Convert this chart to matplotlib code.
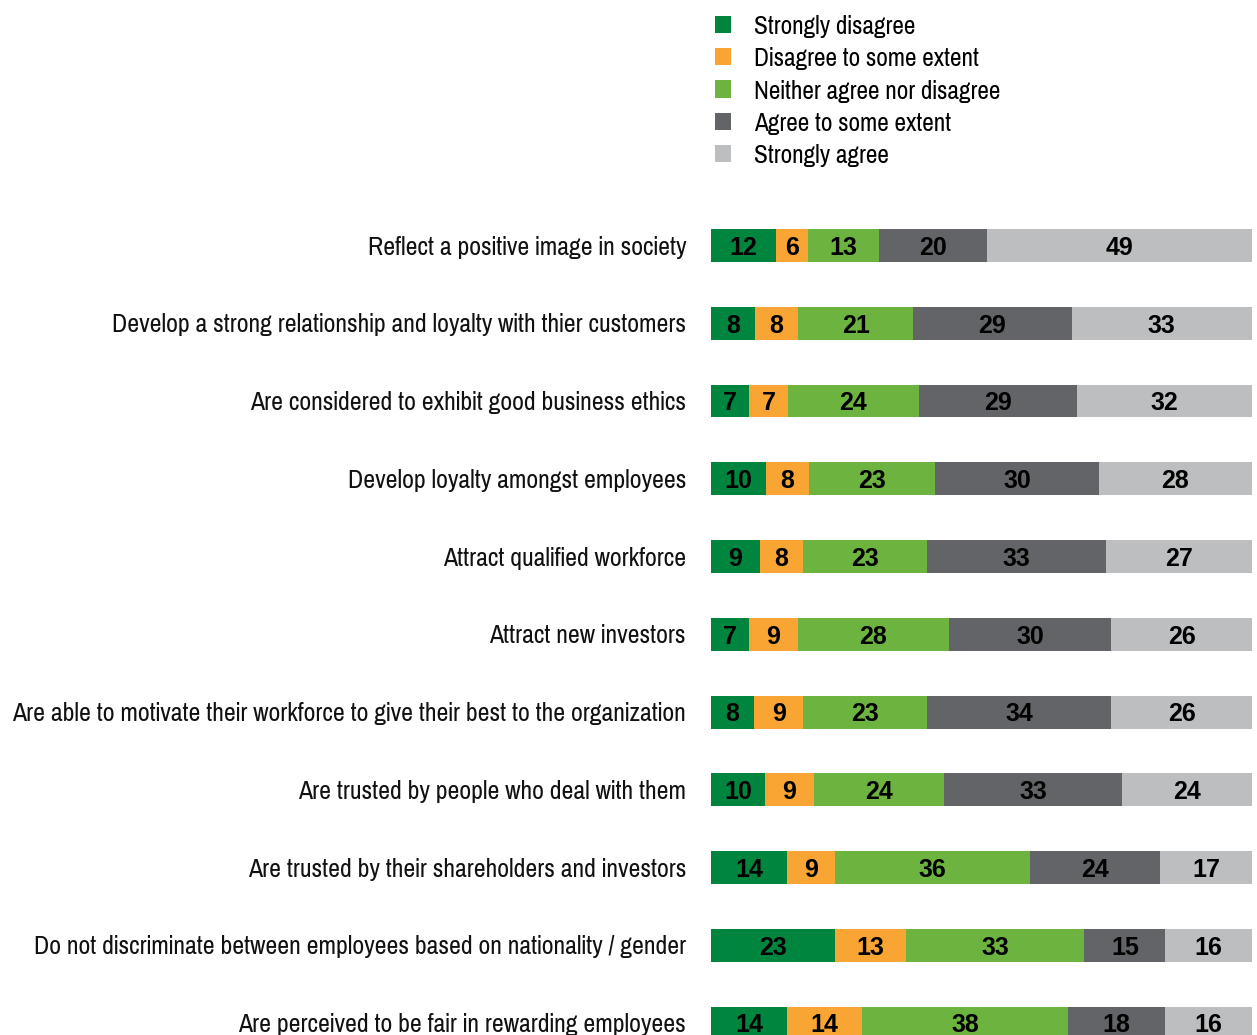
import numpy as np
import matplotlib
matplotlib.use("Agg")
import matplotlib.pyplot as plt
from matplotlib import font_manager
from matplotlib.ft2font import FT2Font
from matplotlib.textpath import TextPath

# survey statements, top to bottom
statements = [
    "Reflect a positive image in society",
    "Develop a strong relationship and loyalty with thier customers",
    "Are considered to exhibit good business ethics",
    "Develop loyalty amongst employees",
    "Attract qualified workforce",
    "Attract new investors",
    "Are able to motivate their workforce to give their best to the organization",
    "Are trusted by people who deal with them",
    "Are trusted by their shareholders and investors",
    "Do not discriminate between employees based on nationality / gender",
    "Are perceived to be fair in rewarding employees",
]

responses = [
    "Strongly disagree",
    "Disagree to some extent",
    "Neither agree nor disagree",
    "Agree to some extent",
    "Strongly agree",
]

strongly_disagree = [12, 8, 7, 10, 9, 7, 8, 10, 14, 23, 14]
disagree_some = [6, 8, 7, 8, 8, 9, 9, 9, 9, 13, 14]
neither = [13, 21, 24, 23, 23, 28, 23, 24, 36, 33, 38]
agree_some = [20, 29, 29, 30, 33, 30, 34, 33, 24, 15, 18]
strongly_agree = [49, 33, 32, 28, 27, 26, 26, 24, 17, 16, 16]

colors = ["#00853f", "#f9a533", "#6db33f", "#636467", "#bcbec0"]

fig = plt.figure(figsize=(12.57, 10.35), dpi=100)
renderer = fig.canvas.get_renderer()
longest = max(statements, key=len)
needed = {ord(c) for c in "".join(statements + responses)}

LINE_PX = 674   # width of the longest statement
CAP_PX = 17.7   # capital height of the statement text


def text_width(props):
    t = fig.text(0, 0, longest, fontproperties=props)
    w = t.get_window_extent(renderer).width
    t.remove()
    return w


def covers(fname):
    try:
        cmap = FT2Font(fname).get_charmap()
    except Exception:
        return False
    return needed.issubset(cmap.keys())


# pick the regular sans face whose proportions suit a 674 px line with 17.7 px capitals
choice, choice_size, err = None, 18, None
for f in font_manager.fontManager.ttflist:
    if f.style != "normal" or f.weight not in ("normal", "regular", "book", 400):
        continue
    if any(k in f.name for k in ("CJK", "Mono", "Serif", "Symbol", "Math", "STIX", "cm")):
        continue
    if not covers(f.fname):
        continue
    props = font_manager.FontProperties(fname=f.fname, size=18)
    w18 = text_width(props)
    if w18 <= 0:
        continue
    cap = TextPath((0, 0), "H", size=1, prop=props).get_extents().height
    size = 18 * LINE_PX / w18
    e = abs(cap * size * 100 / 72 - CAP_PX)
    if err is None or e < err:
        choice, choice_size, err = props, size, e

narrow = choice if choice is not None else font_manager.FontProperties(family="Liberation Sans")
narrow.set_size(choice_size)

series = np.array([strongly_disagree, disagree_some, neither, agree_some, strongly_agree], dtype=float)
shares = series / series.sum(axis=0) * 100

ax = fig.add_axes([711 / 1257, 1 - 1062 / 1035, 541 / 1257, (1062 - 206.6) / 1035])

y = np.arange(len(statements))
left = np.zeros(len(statements))
handles = []
for i, name in enumerate(responses):
    bars = ax.barh(y, shares[i], left=left, height=0.424, color=colors[i], label=name)
    handles.append(bars)
    for j in range(len(statements)):
        ax.text(left[j] + shares[i][j] / 2, y[j] + 0.03, "%d" % series[i][j],
                ha="center", va="center", fontsize=18, fontweight="bold",
                family="Liberation Sans", color="black")
    left += shares[i]

ax.set_xlim(0, 100)
ax.set_ylim(len(statements) - 0.5, -0.5)
ax.axis("off")

for j, s in enumerate(statements):
    ax.text(-25 / 5.41, y[j] + 0.02, s, ha="right", va="center", color="#111111",
            fontproperties=narrow)

# legend: 16 px swatches, 32 px row pitch, text starting 23 px after the swatch
leg_font = narrow.copy()
leg_font.set_size(choice_size * 0.98)
fs_px = leg_font.get_size() * 100 / 72
fig.legend(handles=handles, labels=responses, loc="upper left",
           bbox_to_anchor=(715 / 1257, 1 - 15 / 1035), frameon=False,
           prop=leg_font, handlelength=16 / fs_px, handleheight=16 / fs_px,
           handletextpad=23 / fs_px, labelspacing=0.34, borderaxespad=0, borderpad=0)

fig.savefig("out.png", dpi=100)
